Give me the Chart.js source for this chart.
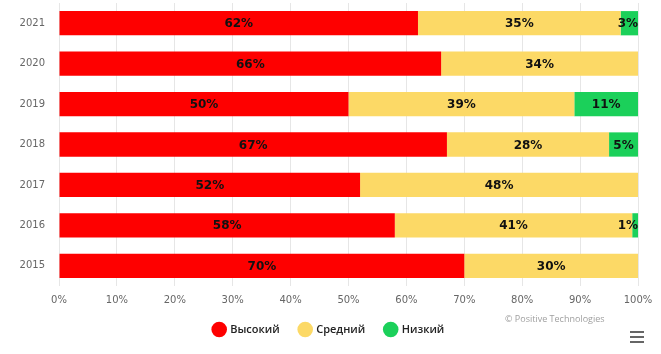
<!DOCTYPE html>
<html lang="ru">
<head>
    <meta charset="UTF-8">
    <title>Уровень риска</title>
    <script src="https://cdn.jsdelivr.net/npm/chart.js"></script>
    <style>
        body {
            margin: 0;
            padding: 0;
            background: #fff;
        }

        .wrap {
            position: relative;
            width: 661px;
            height: 354px;
        }

        /* Credit and menu icon */
        .credit {
            position: absolute;
            left: 505px;
            top: 312px;
            font-family: 'Open Sans', Arial, sans-serif;
            font-size: 9px;
            color: #a0a0a0;
        }

        .menu {
            position: absolute;
            left: 630px;
            top: 331px;
            width: 14px;
        }

        .menu span {
            display: block;
            height: 2px;
            background: #666;
            margin-bottom: 3px;
        }
    </style>
</head>
<body>

    <div class="wrap">
        <canvas id="riskChart" width="661" height="354"></canvas>
        <div class="credit">© Positive Technologies</div>
        <div class="menu"><span></span><span></span><span></span></div>
    </div>

    <script>
        // Data
        const years = ["2021", "2020", "2019", "2018", "2017", "2016", "2015"];
        const high = [62, 66, 50, 67, 52, 58, 70];
        const medium = [35, 34, 39, 28, 48, 41, 30];
        const low = [3, 0, 11, 5, 0, 1, 0];
        const xTicks = [0, 10, 20, 30, 40, 50, 60, 70, 80, 90, 100];

        // Labels inside the segments
        const barLabels = {
            id: "barLabels",
            afterDatasetsDraw(chart) {
                const ctx = chart.ctx;
                const area = chart.chartArea;
                ctx.save();
                ctx.font = "bold 12px 'DejaVu Sans', Arial, sans-serif";
                ctx.fillStyle = "#111";
                ctx.textBaseline = "middle";
                ctx.textAlign = "center";
                chart.data.datasets.forEach((ds, i) => {
                    chart.getDatasetMeta(i).data.forEach((bar, j) => {
                        const v = ds.data[j];
                        if (!v) return;
                        const text = v + "%";
                        const w = ctx.measureText(text).width;
                        let x = (bar.x + bar.base) / 2;
                        if (x + w / 2 > area.right) x = area.right - w / 2;
                        ctx.fillText(text, x, bar.y + 1);
                    });
                });
                ctx.restore();
            }
        };

        const ctx = document.getElementById("riskChart").getContext("2d");
        new Chart(ctx, {
            type: "bar",
            data: {
                labels: years,
                datasets: [
                    { label: "Высокий", data: high, backgroundColor: "#fe0000" },
                    { label: "Средний", data: medium, backgroundColor: "#fcd966" },
                    { label: "Низкий", data: low, backgroundColor: "#1bd05a" }
                ]
            },
            options: {
                indexAxis: "y",
                responsive: false,
                animation: false,
                layout: { padding: { top: 3, right: 23, left: 20, bottom: 9 } },
                categoryPercentage: 1,
                barPercentage: 0.6,
                plugins: {
                    tooltip: { enabled: false },
                    legend: {
                        position: "bottom",
                        labels: {
                            usePointStyle: true,
                            pointStyle: "circle",
                            boxWidth: 11,
                            boxHeight: 11,
                            padding: 20,
                            color: "#222",
                            font: { family: "'Open Sans', Arial, sans-serif", size: 11, weight: "600" }
                        }
                    }
                },
                scales: {
                    x: {
                        stacked: true,
                        min: 0,
                        max: 100,
                        afterBuildTicks: scale => { scale.ticks = xTicks.map(v => ({ value: v })); },
                        afterFit: scale => { scale.height = 18; },
                        grid: { color: "#e6e6e6", drawTicks: false },
                        border: { display: false },
                        ticks: {
                            padding: 8,
                            maxRotation: 0,
                            color: "#666",
                            font: { family: "'DejaVu Sans', Arial, sans-serif", size: 10 },
                            callback: v => v + "%"
                        }
                    },
                    y: {
                        stacked: true,
                        afterFit: scale => {
                            scale.width = 39;
                            scale.paddingTop = 0;
                            scale.paddingBottom = 0;
                        },
                        grid: { display: false, drawTicks: false },
                        border: { display: false },
                        ticks: {
                            padding: 14,
                            color: "#666",
                            font: { family: "'DejaVu Sans', Arial, sans-serif", size: 10 }
                        }
                    }
                }
            },
            plugins: [barLabels]
        });
    </script>
</body>
</html>
